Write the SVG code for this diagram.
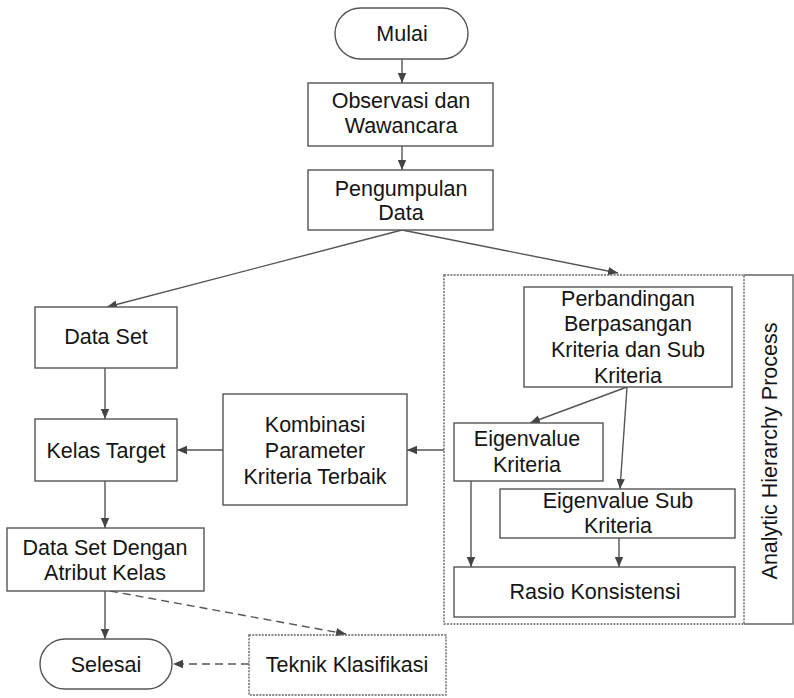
<svg xmlns="http://www.w3.org/2000/svg" width="794" height="698" viewBox="0 0 794 698">
<style>
.box{fill:#fff;stroke:#555;stroke-width:1.4}
.dot{fill:none;stroke:#666;stroke-width:1.4;stroke-dasharray:2 1.2}
.ln{fill:none;stroke:#555;stroke-width:1.4;marker-end:url(#ah)}
.dl{fill:none;stroke:#555;stroke-width:1.4;stroke-dasharray:8 5;marker-end:url(#ah)}
text{font-family:"Liberation Sans",Arial,sans-serif;font-size:21.5px;fill:#151515;text-anchor:middle}
</style>
<defs>
<marker id="ah" viewBox="0 0 10 10" refX="10" refY="5" markerWidth="10" markerHeight="10" markerUnits="userSpaceOnUse" orient="auto">
<path d="M0,0.8 L10,5 L0,9.2 Z" fill="#444"/>
</marker>
</defs>
<rect width="794" height="698" fill="#fff"/>
<g id="connectors">
<line class="ln" x1="402" y1="59" x2="402" y2="83"/>
<line class="ln" x1="402" y1="146" x2="402" y2="170"/>
<line class="ln" x1="402" y1="230" x2="107" y2="307"/>
<line class="ln" x1="402" y1="230" x2="618" y2="273"/>
<line class="ln" x1="105" y1="368" x2="105" y2="419"/>
<line class="ln" x1="223" y1="450" x2="177" y2="450"/>
<line class="ln" x1="444" y1="450" x2="407" y2="450"/>
<line class="ln" x1="105" y1="481" x2="105" y2="528"/>
<line class="ln" x1="105" y1="591" x2="105" y2="639"/>
<line class="ln" x1="627" y1="387" x2="530" y2="423"/>
<line class="ln" x1="627" y1="387" x2="620" y2="489"/>
<line class="ln" x1="471" y1="481" x2="471" y2="567"/>
<line class="ln" x1="619" y1="538" x2="619" y2="567"/>
<line class="dl" x1="110" y1="591" x2="346" y2="634"/>
<line class="dl" x1="249" y1="664" x2="173" y2="664"/>
</g>
<g id="ahp">
<path d="M744,275 H793 V624 H744" fill="none" stroke="#666" stroke-width="1.4"/>
<rect class="dot" x="444" y="275" width="300" height="349"/>
<text transform="translate(777,451) rotate(-90)">Analytic Hierarchy Process</text>
</g>
<g id="mulai"><rect class="box" x="335" y="8" width="133" height="51" rx="25.5"/><text x="402" y="41">Mulai</text></g>
<g id="observasi"><rect class="box" x="308" y="83" width="185" height="63"/><text x="401" y="108">Observasi dan</text><text x="401" y="133">Wawancara</text></g>
<g id="pengumpulan"><rect class="box" x="308" y="170" width="185" height="60"/><text x="401" y="196">Pengumpulan</text><text x="401" y="220">Data</text></g>
<g id="dataset"><rect class="box" x="35" y="307" width="142" height="61"/><text x="106" y="344">Data Set</text></g>
<g id="kelastarget"><rect class="box" x="35" y="419" width="142" height="62"/><text x="106" y="458">Kelas Target</text></g>
<g id="kombinasi"><rect class="box" x="223" y="394" width="184" height="111"/><text x="315" y="432">Kombinasi</text><text x="315" y="458">Parameter</text><text x="315" y="484">Kriteria Terbaik</text></g>
<g id="datasetatribut"><rect class="box" x="7" y="528" width="197" height="63"/><text x="105" y="555">Data Set Dengan</text><text x="105" y="580">Atribut Kelas</text></g>
<g id="selesai"><rect class="box" x="40" y="639" width="132" height="50" rx="25"/><text x="106" y="672">Selesai</text></g>
<g id="teknik"><rect class="dot" x="249" y="635" width="197" height="60"/><text x="347" y="672">Teknik Klasifikasi</text></g>
<g id="perbandingan"><rect class="box" x="524" y="287" width="208" height="100"/><text x="628" y="306">Perbandingan</text><text x="628" y="331">Berpasangan</text><text x="628" y="357">Kriteria dan Sub</text><text x="628" y="383">Kriteria</text></g>
<g id="eigenkriteria"><rect class="box" x="454" y="423" width="149" height="58"/><text x="527" y="446">Eigenvalue</text><text x="527" y="472">Kriteria</text></g>
<g id="eigensub"><rect class="box" x="500" y="489" width="235" height="49"/><text x="618" y="508">Eigenvalue Sub</text><text x="618" y="533">Kriteria</text></g>
<g id="rasio"><rect class="box" x="454" y="567" width="281" height="50"/><text x="595" y="599">Rasio Konsistensi</text></g>
</svg>
